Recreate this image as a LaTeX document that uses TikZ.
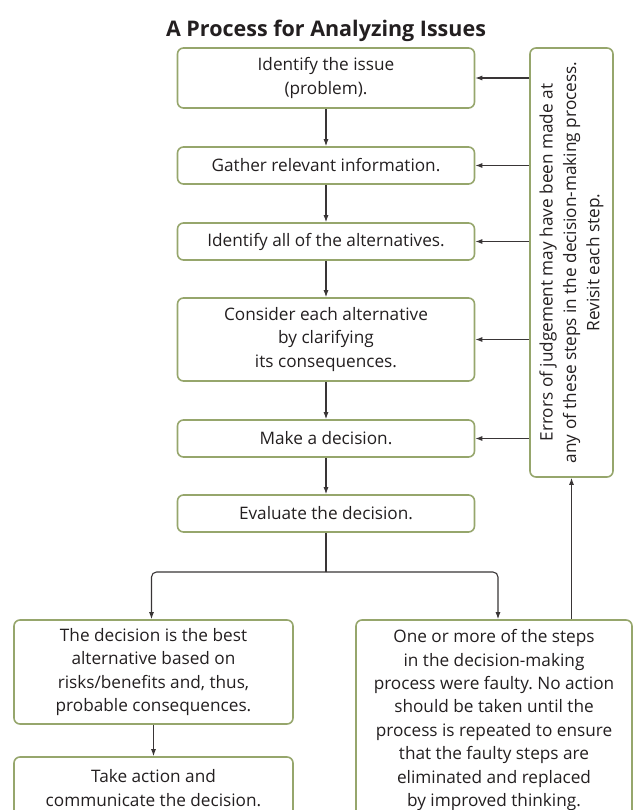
\documentclass[tikz,border=0pt]{standalone}
\usepackage{fontspec}
\setmainfont{Open Sans}
\usetikzlibrary{arrows.meta}
\definecolor{boxgreen}{RGB}{150,166,108}
\definecolor{ink}{RGB}{35,31,32}
\frenchspacing
\begin{document}
\begin{tikzpicture}[x=1pt,y=-1pt,
  stepbox/.style={draw=boxgreen, line width=1.6pt, rounded corners=6pt,
    align=center, text=ink, inner sep=0pt,
    font=\fontsize{17.2}{23.4}\selectfont},
  link/.style={draw=ink!90, line width=1.1pt},
  flow/.style={link, -{Latex[length=7pt,width=5pt]}}]
\useasboundingbox (0,0) rectangle (635,810);

\node[text=ink, font=\bfseries\fontsize{21.5}{24}\selectfont] (title) at (326,31)
  {A Process for Analyzing Issues};

% main column of steps
\node[stepbox, minimum width=297pt, minimum height=60pt] (s1) at (326,78)
  {Identify the issue\\(problem).};
\node[stepbox, minimum width=297pt, minimum height=37pt] (s2) at (326,165.5)
  {Gather relevant information.};
\node[stepbox, minimum width=297pt, minimum height=37pt] (s3) at (326,241.5)
  {Identify all of the alternatives.};
\node[stepbox, minimum width=297pt, minimum height=83pt] (s4) at (326,339.5)
  {Consider each alternative\\by clarifying\\its consequences.};
\node[stepbox, minimum width=297pt, minimum height=37pt] (s5) at (326,438.5)
  {Make a decision.};
\node[stepbox, minimum width=297pt, minimum height=37pt] (s6) at (326,513.5)
  {Evaluate the decision.};

% side note (rotated)
\node[stepbox, rotate=90, minimum width=429pt, minimum height=83pt] (side) at (571.5,262.5)
  {Errors of judgement may have been made at\\any of these steps in the decision-making process.\\Revisit each step.};

% outcomes
\node[stepbox, minimum width=279pt, minimum height=104pt] (l1) at (153.5,672)
  {The decision is the best\\alternative based on\\risks/benefits and, thus,\\probable consequences.};
\node[stepbox, minimum width=279pt, minimum height=62pt] (l2) at (153.5,788)
  {Take action and\\communicate the decision.};
\node[stepbox, minimum width=276pt, minimum height=200pt] (r1) at (494,720)
  {One or more of the steps\\in the decision-making\\process were faulty. No action\\should be taken until the\\process is repeated to ensure\\that the faulty steps are\\eliminated and replaced\\by improved thinking.};

% connectors down the column
\draw[flow] (s1) -- (s2);
\draw[flow] (s2) -- (s3);
\draw[flow] (s3) -- (s4);
\draw[flow] (s4) -- (s5);
\draw[flow] (s5) -- (s6);

% branch after evaluation
\coordinate (fork) at (326,572);
\draw[link] (s6.south) -- (fork);
\draw[flow, rounded corners=5pt] (fork) -| ([xshift=-2pt]l1.north);
\draw[flow, rounded corners=5pt] (fork) -| ([xshift=4pt]r1.north);
\draw[flow] (l1) -- (l2);

% feedback loop
\draw[flow] (r1.north -| side.west) -- (side.west);
\foreach \s in {s1,s2,s3,s4,s5}
  \draw[flow] (\s.east -| side.north) -- (\s.east);
\end{tikzpicture}
\end{document}
